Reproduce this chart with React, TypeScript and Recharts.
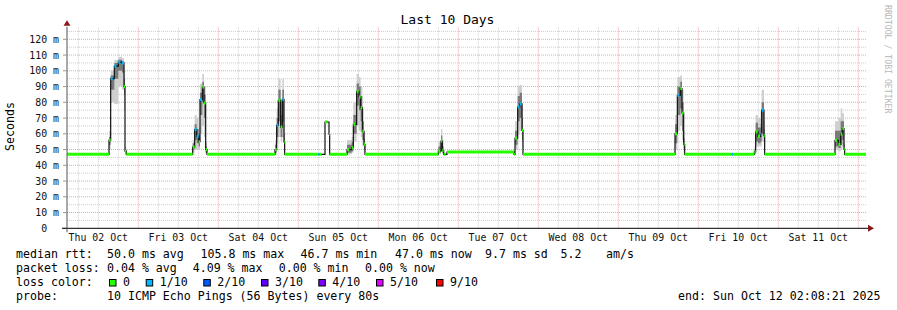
import React from 'react'
import {ComposedChart, Area, Line, XAxis, YAxis, ReferenceLine, ReferenceDot} from 'recharts'

// time in hours since Thu 02 Oct 00:00
const hours = [
    2.6, 15.2, 15.7, 16.8, 18.0, 19.1, 19.7, 20.0, 20.4,
    40.3, 40.9, 41.5, 42.1, 42.5, 43.2, 43.7, 44.2, 44.6,
    65.0, 65.5, 66.0, 66.7, 67.2, 67.7, 67.9,
    78.0, 78.4, 80.0, 81.2, 81.4,
    86.6, 88.0, 88.5, 89.5, 90.2, 90.7, 91.2, 91.7, 92.0,
    114.0, 114.8, 115.2, 115.6, 116.6,
    136.7, 137.0, 137.8, 138.4, 139.1, 139.4,
    185.0, 185.7, 186.6, 187.1, 187.6, 187.9,
    202.0, 202.4,
    208.8, 209.2, 209.9, 210.7, 211.0, 211.7, 211.9,
    233.0, 234.0, 234.7, 235.2, 235.7, 235.9, 242.3,
]
const medianMs = [
    47, 56, 95, 103, 105.5, 105, 90, 49, 47,
    51.6, 62.6, 58.4, 55, 81.7, 89.7, 79.6, 50, 47,
    50, 65.4, 81.3, 64.3, 81.9, 54.8, 47,
    47, 47, 67.5, 59.7, 47,
    50, 51.2, 66, 87, 83.4, 76.6, 61.6, 53.3, 47,
    49, 55.4, 49.5, 47, 48.4,
    47, 57.3, 77, 79, 62.2, 47,
    60.1, 84.4, 88.7, 73.2, 53.3, 47,
    47, 47,
    48.5, 61.2, 58.4, 59.7, 75, 58.8, 47,
    55.9, 53.3, 59.7, 63.3, 50.2, 47, 47,
]
// index into lossColors
const lossStep = [
    0, 0, 1, 1, 1, 1, 0, 0, 0,
    0, 1, 1, 0, 1, 0, 0, 0, 0,
    0, 1, 0, 0, 1, 0, 0,
    1, 0, 0, 0, 0,
    0, 0, 0, 0, 0, 0, 0, 0, 0,
    0, 0, 0, 0, 0,
    0, 0, 1, 1, 0, 0,
    0, 1, 0, 0, 0, 0,
    1, 0,
    0, 0, 0, 1, 1, 0, 0,
    0, 0, 0, 0, 0, 0, 0,
]
const smokeLo = [
    47, 50, 80, 79, 90, 88, 75, 47, 47,
    48, 50, 50, 50, 60, 65, 58, 47, 47,
    47, 54, 58, 55, 58, 50, 47,
    47, 47, 67.5, 59.7, 47,
    47, 48, 55, 65, 62, 58, 52, 48, 47,
    47, 49, 47, 47, 48.4,
    47, 50, 60, 62, 52, 47,
    50, 62, 65, 56, 48, 47,
    47, 47,
    47, 52, 52, 52, 55, 51, 47,
    50, 49, 50, 52, 47, 47, 47,
]
const smokeHi = [
    47, 62, 100, 107, 109, 108, 100, 52, 47,
    56, 72, 70, 64, 92, 98, 90, 55, 47,
    56, 76, 95, 80, 95, 66, 47,
    47, 47, 67.5, 59.7, 47,
    56, 58, 80, 98, 96, 90, 76, 62, 47,
    55, 63, 56, 47, 48.4,
    47, 68, 90, 91, 78, 47,
    72, 96, 97, 88, 62, 47,
    47, 47,
    52, 72, 70, 75, 88, 68, 47,
    68, 70, 76, 73, 55, 47, 47,
]
const coreLo = [
    47, 53, 88, 95, 100, 99, 85, 48, 47,
    50, 56, 54, 52, 72, 80, 70, 48, 47,
    48, 58, 68, 58, 68, 52, 47,
    47, 47, 67.5, 59.7, 47,
    48, 49, 60, 78, 75, 68, 56, 50, 47,
    48, 52, 48, 47, 48.4,
    47, 53, 68, 70, 56, 47,
    54, 72, 76, 62, 50, 47,
    47, 47,
    47, 55, 54, 55, 60, 54, 47,
    52, 51, 53, 56, 48, 47, 47,
]
const coreHi = [
    47, 58, 97, 105, 107, 106, 95, 50, 47,
    54, 66, 63, 60, 86, 93, 85, 52, 47,
    53, 70, 88, 72, 88, 60, 47,
    47, 47, 67.5, 59.7, 47,
    53, 55, 72, 92, 90, 84, 68, 57, 47,
    52, 59, 52, 47, 48.4,
    47, 62, 84, 86, 70, 47,
    66, 90, 93, 80, 57, 47,
    47, 47,
    50, 67, 64, 66, 80, 63, 47,
    62, 62, 68, 68, 53, 47, 47,
]

const lossColors = ['#26ff00', '#00b8ff', '#0059ff', '#5e00ff', '#7e00ff', '#dd00ff', '#ff0000']
const lossLabels = ['0', '1/10', '2/10', '3/10', '4/10', '5/10', '9/10']
const lossBoxX = [109, 145.7, 203.3, 261, 318.3, 376, 436]

const yTicks = [0, 10, 20, 30, 40, 50, 60, 70, 80, 90, 100, 110, 120]
const yMinor = [5, 15, 25, 35, 45, 55, 65, 75, 85, 95, 105, 115, 125]
const dayTicks = [12, 36, 60, 84, 108, 132, 156, 180, 204, 228]
const dayLabels = ['Thu 02 Oct', 'Fri 03 Oct', 'Sat 04 Oct', 'Sun 05 Oct', 'Mon 06 Oct',
    'Tue 07 Oct', 'Wed 08 Oct', 'Thu 09 Oct', 'Fri 10 Oct', 'Sat 11 Oct']
const dayLines = [24, 48, 72, 96, 120, 144, 168, 192, 216, 240]
const quarterLines = [6, 12, 18, 30, 36, 42, 54, 60, 66, 78, 84, 90, 102, 108, 114, 126, 132, 138,
    150, 156, 162, 174, 180, 186, 198, 204, 210, 222, 228, 234]

const rttStats = [
    {x: 16, text: 'median rtt:'}, {x: 107, text: '50.0 ms avg'}, {x: 200.5, text: '105.8 ms max'},
    {x: 300.5, text: '46.7 ms min'}, {x: 395, text: '47.0 ms now'}, {x: 485, text: '9.7 ms sd'},
    {x: 560.5, text: '5.2'}, {x: 606, text: 'am/s'},
]
const lossStats = [
    {x: 16, text: 'packet loss:'}, {x: 107, text: '0.04 % avg'}, {x: 192.7, text: '4.09 % max'},
    {x: 278.7, text: '0.00 % min'}, {x: 365, text: '0.00 % now'},
]

const startHour = 2.6
const endHour = 242.6
const markHours = 0.6
const mono = "'DejaVu Sans Mono', monospace"
const legendSize = 11.6

const rows = hours.map((t, i) => ({
    t,
    median: medianMs[i],
    smoke: [smokeLo[i], smokeHi[i]],
    core: [coreLo[i], coreHi[i]],
}))

function YTick(props: any){
    const {x, y, payload} = props
    const v = payload.value
    return (
        <text x={v === 0 ? x - 11.9 : x} y={y + 3.6} textAnchor="end" fontFamily={mono} fontSize={9.9} fill="#111">
            {v === 0 ? '0' : `${v} m`}
        </text>
    )
}

function XTick(props: any){
    const {x, y, payload} = props
    const idx = dayTicks.indexOf(payload.value)
    return (
        <text x={x} y={y + 12.4} textAnchor="middle" fontFamily={mono} fontSize={9.9} fill="#111">
            {dayLabels[idx]}
        </text>
    )
}

function RightArrow(props: any){
    const {cx, cy} = props
    return (
        <g>
            <line x1={cx} y1={cy} x2={cx + 2} y2={cy} stroke="#000" />
            <path d={`M${cx + 1},${cy - 3.5} L${cx + 7},${cy} L${cx + 1},${cy + 3.5} Z`} fill="#8b1a1a" />
        </g>
    )
}

function UpArrow(props: any){
    const {cx, cy} = props
    return (
        <path d={`M${cx - 3.5},${cy - 1} L${cx},${cy - 6.5} L${cx + 3.5},${cy - 1} Z`} fill="#8b1a1a" />
    )
}

function Corner(props: any){
    const {cx, cy} = props
    return (
        <g>
            <line x1={cx - 5} y1={cy} x2={cx} y2={cy} stroke="#000" />
            <line x1={cx} y1={cy} x2={cx} y2={cy + 4} stroke="#555" />
        </g>
    )
}

export default function App(){
    return (
        <div style={{position: 'absolute', left: 0, top: 0, width: 897, height: 310, background: '#fff'}}>
            <ComposedChart width={897} height={310} data={rows}
                           margin={{top: 26.7, right: 30, bottom: 51.7, left: 0}}>
                <XAxis type="number" dataKey="t" domain={[startHour, endHour]} ticks={dayTicks}
                       interval={0} height={30} tickLine={false} tickSize={0} tickMargin={0}
                       tick={(p: any) => <XTick {...p} />} axisLine={{stroke: '#000'}} allowDataOverflow />
                <YAxis type="number" domain={[0, 128]} ticks={yTicks} interval={0} width={67} tickSize={4}
                       tickMargin={4} tick={(p: any) => <YTick {...p} />} axisLine={{stroke: '#555'}}
                       tickLine={{stroke: '#999'}} allowDataOverflow />

                {yMinor.map(v => (
                    <ReferenceLine key={'ym' + v} y={v} stroke="#cfcfcf" strokeDasharray="1 1" zIndex={-100} />
                ))}
                {quarterLines.map(t => (
                    <ReferenceLine key={'xm' + t} x={t} stroke="#cfcfcf" strokeDasharray="1 1" zIndex={-100} />
                ))}
                {yTicks.filter(v => v > 0).map(v => (
                    <ReferenceLine key={'yM' + v} y={v} stroke="#f2a0a0" strokeDasharray="1 1" zIndex={-90} />
                ))}
                {dayLines.map(t => (
                    <ReferenceLine key={'xM' + t} x={t} stroke="#f2a0a0" strokeDasharray="1 1" zIndex={-90} />
                ))}

                <Area dataKey="smoke" type="stepAfter" stroke="none" fill="#cfcfcf" fillOpacity={1}
                      isAnimationActive={false} zIndex={100} />
                <Area dataKey="core" type="stepAfter" stroke="none" fill="#7a7a7a" fillOpacity={1}
                      isAnimationActive={false} zIndex={110} />
                <Line dataKey="median" type="stepAfter" stroke="#111" strokeWidth={1.2} dot={false}
                      isAnimationActive={false} zIndex={400} />

                {hours.slice(0, -1).map((t, i) => (
                    <ReferenceLine key={'seg' + i}
                                   segment={[{x: t, y: medianMs[i]},
                                       {x: Math.max(Math.min(hours[i + 1], t + markHours), hours[i + 1] > t + 5 ? hours[i + 1] : 0), y: medianMs[i]}]}
                                   stroke={lossColors[lossStep[i]]} strokeWidth={3} zIndex={450} />
                ))}

                <ReferenceDot x={endHour} y={0} r={0} shape={(p: any) => <RightArrow {...p} />} zIndex={600} />
                <ReferenceDot x={startHour} y={128} r={0} shape={(p: any) => <UpArrow {...p} />} zIndex={600} />
                <ReferenceDot x={startHour} y={0} r={0} shape={(p: any) => <Corner {...p} />} zIndex={600} />
            </ComposedChart>

            <svg width={897} height={310} style={{position: 'absolute', left: 0, top: 0, pointerEvents: 'none'}}
                 fontFamily={mono}>
                <text x={447.5} y={24} textAnchor="middle" fontSize={13} fill="#000">Last 10 Days</text>
                <text x={14.2} y={126.5} textAnchor="middle" fontSize={legendSize} fill="#000"
                      transform="rotate(-90 14.2 126.5)">Seconds</text>
                <text x={885} y={5} fontSize={8.2} fill="#b8b8b8"
                      transform="rotate(90 885 5)">RRDTOOL / TOBI OETIKER</text>

                {rttStats.map(s => (
                    <text key={'r' + s.x} x={s.x} y={258} fontSize={legendSize} fill="#000">{s.text}</text>
                ))}
                {lossStats.map(s => (
                    <text key={'l' + s.x} x={s.x} y={272} fontSize={legendSize} fill="#000">{s.text}</text>
                ))}
                <text x={16} y={286} fontSize={legendSize} fill="#000">loss color:</text>
                {lossLabels.map((lab, i) => (
                    <g key={'b' + i}>
                        <rect x={lossBoxX[i] + 0.5} y={279.5} width={6.5} height={6.5} fill={lossColors[i]} stroke="#000" />
                        <text x={lossBoxX[i] + 14} y={286} fontSize={legendSize} fill="#000">{lab}</text>
                    </g>
                ))}
                <text x={16} y={299.7} fontSize={legendSize} fill="#000">probe:</text>
                <text x={107} y={299.7} fontSize={legendSize} fill="#000">10 ICMP Echo Pings (56 Bytes) every 80s</text>
                <text x={880.5} y={299.7} textAnchor="end" fontSize={legendSize} fill="#000">end: Sun Oct 12 02:08:21 2025</text>
            </svg>
        </div>
    )
}
